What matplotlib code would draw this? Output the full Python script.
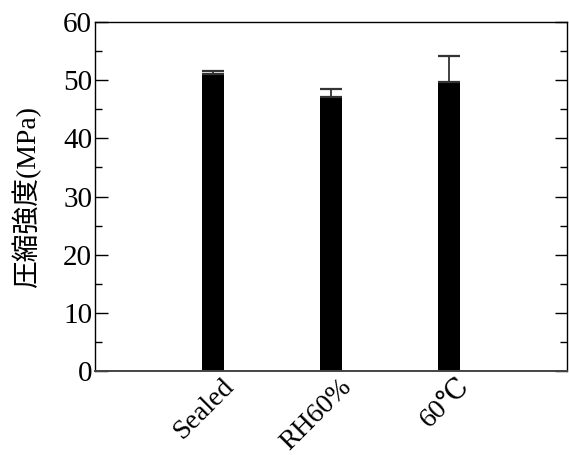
import matplotlib
matplotlib.use("Agg")
import matplotlib.pyplot as plt
import matplotlib.transforms as mtransforms
from matplotlib.ticker import MultipleLocator
import numpy as np

# data
categories = ["Sealed", "RH60%", "60℃"]
strength = [51.0, 47.1, 49.7]
err_up = [0.6, 1.3, 4.4]

plt.rcParams["font.family"] = ["Liberation Serif", "DejaVu Serif", "Noto Sans CJK JP"]

fig = plt.figure(figsize=(5.69, 4.55), dpi=100)
ax = fig.add_axes([0.167, 0.1846, 0.8295, 0.767])

x = np.arange(1, len(categories) + 1)
ax.bar(x, strength, width=0.18, color="black")
ax.errorbar(x, strength, yerr=[np.zeros(len(err_up)), err_up], fmt="none",
            ecolor="#333333", elinewidth=1.3, capsize=7.6, capthick=1.6)

ax.set_xlim(0, 4)
ax.set_ylim(0, 60)
ax.yaxis.set_major_locator(MultipleLocator(10))
ax.yaxis.set_minor_locator(MultipleLocator(5))
ax.tick_params(axis="x", length=0, pad=2)
ax.tick_params(axis="y", which="both", direction="in", left=True, right=True,
               labelsize=21, pad=2)
ax.tick_params(axis="y", which="major", length=9, width=1)
ax.tick_params(axis="y", which="minor", length=5, width=1)

ax.set_xticks(x)
ax.set_xticklabels(categories, rotation=45, ha="right", va="top",
                   rotation_mode="anchor", fontsize=20)
# labels sit a little to the right of the bars in the original
shift = mtransforms.ScaledTranslation(8 / 100, 0, fig.dpi_scale_trans)
for lab in ax.get_xticklabels():
    lab.set_transform(lab.get_transform() + shift)

for s in ax.spines.values():
    s.set_linewidth(1.0)
ax.spines["bottom"].set_color("#444444")
ax.spines["bottom"].set_linewidth(1.4)

ax.set_ylabel("圧縮強度(MPa)", fontsize=20, labelpad=16)

fig.savefig("out.png", dpi=100)
